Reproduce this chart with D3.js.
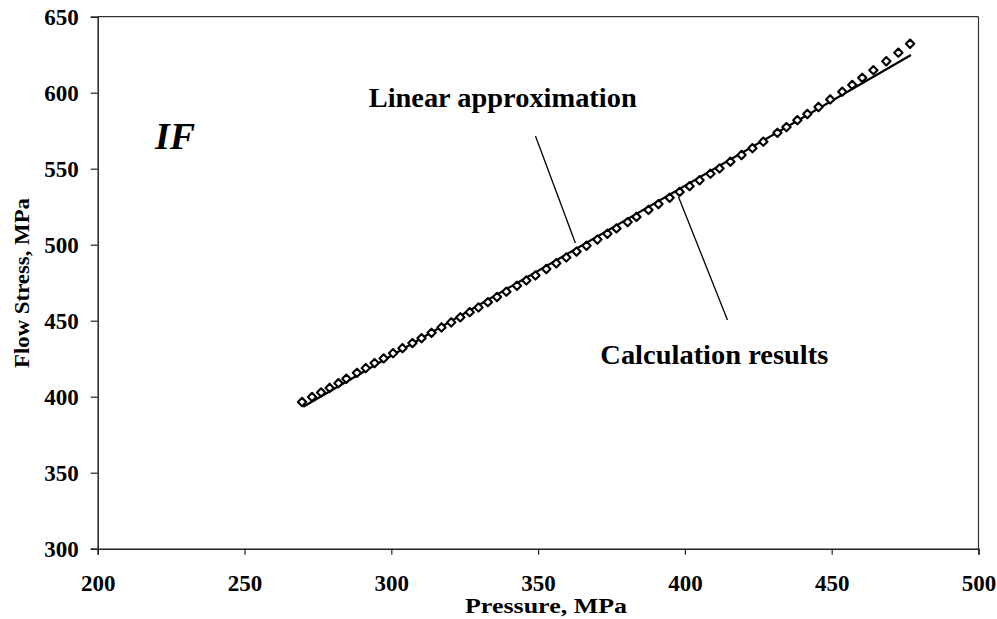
<!DOCTYPE html>
<html>
<head>
<meta charset="utf-8">
<script src="https://cdn.jsdelivr.net/npm/d3@7"></script>
<style>
  html, body { margin: 0; padding: 0; background: #fff; }
  svg { display: block; }
  text { font-family: "Liberation Serif", "Times New Roman", serif; font-weight: bold; fill: #000; }
</style>
</head>
<body>
<svg id="chart" width="997" height="619"></svg>
<script>
// ---- Data ----
const pressure = [269.6, 273.0, 276.1, 279.0, 282.0, 284.7, 288.3, 291.3, 294.3, 297.4,
  300.6, 303.8, 307.2, 310.3, 313.7, 317.1, 320.4, 323.5, 326.7, 329.7,
  332.9, 336.0, 339.2, 342.8, 346.0, 349.1, 352.8, 356.2, 359.6, 363.1,
  366.5, 370.2, 373.6, 376.7, 380.5, 383.5, 387.6, 391.0, 394.8, 398.2,
  401.6, 405.0, 408.7, 411.8, 415.5, 419.3, 423.0, 426.7, 431.5, 434.6,
  438.3, 441.7, 445.5, 449.5, 453.6, 457.0, 460.4, 464.2, 468.6, 472.7, 476.7];
const flowStress = [396.5, 399.8, 402.8, 405.8, 408.9, 411.8, 415.7, 418.8, 422.1, 425.2,
  428.6, 431.9, 435.3, 438.5, 442.0, 445.6, 448.9, 452.2, 455.6, 458.7,
  462.2, 465.6, 469.1, 473.0, 476.5, 479.8, 484.0, 487.8, 491.6, 495.5,
  499.3, 503.4, 507.2, 510.7, 514.9, 518.3, 522.9, 526.7, 530.9, 534.7,
  538.5, 542.4, 546.7, 550.2, 554.6, 559.0, 563.5, 567.8, 573.6, 577.4,
  581.9, 586.0, 590.6, 595.6, 600.7, 605.1, 609.8, 614.8, 620.7, 626.3, 632.2];
const linearX = [270, 477];
const linearY = [393.4, 624.8];
const xTicks = [200, 250, 300, 350, 400, 450, 500];
const yTicks = [300, 350, 400, 450, 500, 550, 600, 650];

// ---- Layout ----
const svg = d3.select("#chart");
const L = 97.7, R = 978.5, T = 16.7, B = 548.7;
const x = d3.scaleLinear().domain([200, 500]).range([L, R]);
const y = d3.scaleLinear().domain([300, 650]).range([B, T]);

// box top / right
svg.append("line").attr("x1", L).attr("x2", R).attr("y1", T).attr("y2", T)
  .attr("stroke", "#333").attr("stroke-width", 1.2);
svg.append("line").attr("x1", R).attr("x2", R).attr("y1", T).attr("y2", B)
  .attr("stroke", "#333").attr("stroke-width", 1.2);

// axes
const xAxis = svg.append("g").attr("transform", `translate(0,${B})`)
  .call(d3.axisBottom(x).tickValues(xTicks).tickSize(6).tickPadding(22).tickFormat(d3.format("d")));
const yAxis = svg.append("g").attr("transform", `translate(${L},0)`)
  .call(d3.axisLeft(y).tickValues(yTicks).tickSize(7).tickPadding(12).tickFormat(d3.format("d")));
[xAxis, yAxis].forEach(g => {
  g.select(".domain").attr("stroke", "#222").attr("stroke-width", 1.5);
  g.selectAll(".tick line").attr("stroke", "#222").attr("stroke-width", 1.2);
  g.selectAll(".tick text")
    .style("font-family", '"Liberation Serif", "Times New Roman", serif')
    .style("font-weight", "bold").style("font-size", "23px").attr("fill", "#000");
});
xAxis.selectAll(".tick text").attr("dy", "0").attr("y", 42);
yAxis.selectAll(".tick text").attr("dy", "0.34em");

// linear approximation line
const linePts = linearX.map((v, i) => [v, linearY[i]]);
svg.append("path").datum(linePts)
  .attr("d", d3.line().x(d => x(d[0])).y(d => y(d[1])))
  .attr("stroke", "#000").attr("stroke-width", 2.2).attr("fill", "none");

// calculation results markers (diamonds)
const sym = d3.symbol().type(d3.symbolDiamond2).size(44);
svg.append("g").selectAll("path").data(pressure.map((p, i) => [p, flowStress[i]]))
  .join("path")
  .attr("d", sym)
  .attr("transform", d => `translate(${x(d[0])},${y(d[1])})`)
  .attr("fill", "#fff").attr("stroke", "#000").attr("stroke-width", 2.1)
  .attr("stroke-linejoin", "round");

// pointer lines
const pointers = [
  [[349.1, 571.5], [362.7, 501.1]],
  [[397.8, 531.6], [414.5, 450.5]]
];
pointers.forEach(p => {
  svg.append("line")
    .attr("x1", x(p[0][0])).attr("y1", y(p[0][1]))
    .attr("x2", x(p[1][0])).attr("y2", y(p[1][1]))
    .attr("stroke", "#000").attr("stroke-width", 1.3);
});

// annotations
svg.append("text").attr("x", x(292.3)).attr("y", y(590.6))
  .style("font-size", "27px").attr("textLength", 268).attr("lengthAdjust", "spacingAndGlyphs")
  .text("Linear approximation");
svg.append("text").attr("x", x(371.2)).attr("y", y(421.5))
  .style("font-size", "27px").attr("textLength", 228).attr("lengthAdjust", "spacingAndGlyphs")
  .text("Calculation results");
svg.append("text").attr("x", x(219.5)).attr("y", y(563))
  .style("font-size", "38px").style("font-style", "italic")
  .text("IF");

// axis titles
svg.append("text").attr("x", 546).attr("y", 613).attr("text-anchor", "middle")
  .style("font-size", "21px").attr("textLength", 162).attr("lengthAdjust", "spacingAndGlyphs")
  .text("Pressure, MPa");
svg.append("text").attr("transform", "translate(29,283) rotate(-90)").attr("text-anchor", "middle")
  .style("font-size", "21px").attr("textLength", 170).attr("lengthAdjust", "spacingAndGlyphs")
  .text("Flow Stress, MPa");
</script>
</body>
</html>
